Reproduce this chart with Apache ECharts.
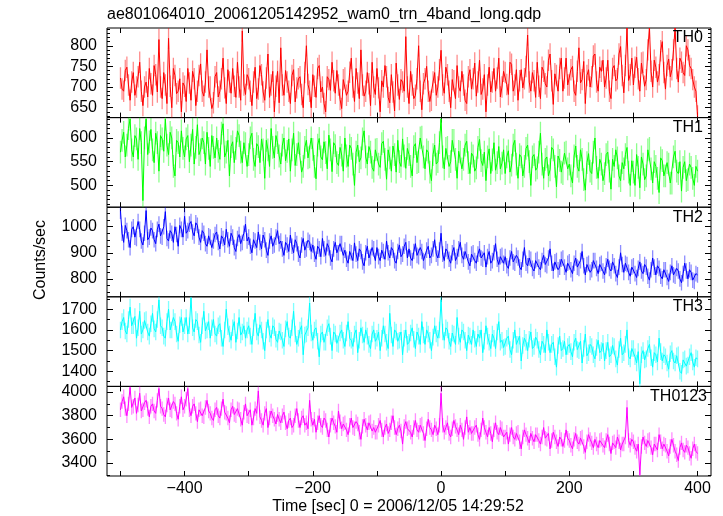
<!DOCTYPE html>
<html><head><meta charset="utf-8">
<script src="https://cdn.jsdelivr.net/npm/echarts@6/dist/echarts.min.js"></script>
<style>html,body{margin:0;padding:0;background:#fff}#c{width:723px;height:516px}</style>
</head><body><div id="c"></div><script>
// time bins (sec from 2006/12/05 14:29:52)
const T_START = -500, T_STEP = 2.5;
const TH0 = [
722,695,690,740,748,705,668,712,735,680,700,725,760,690,655,700,712,676,745,708,
680,752,730,688,815,700,672,735,705,660,818,702,650,745,728,684,690,720,640,710,
702,665,745,710,668,738,720,655,690,728,756,690,678,712,790,700,700,648,662,725,
735,676,690,720,770,698,660,742,712,685,745,702,675,760,700,668,836,705,682,730,
720,690,655,712,748,672,695,752,730,688,668,722,780,675,705,738,640,702,738,662,
795,705,680,740,712,690,660,728,742,664,698,720,725,682,650,735,800,706,690,650,
730,702,675,745,752,688,700,660,640,725,718,692,760,715,685,740,705,670,648,718,
722,680,690,736,770,700,665,745,710,672,790,705,678,690,735,708,655,760,700,682,
745,698,640,715,700,752,725,675,662,730,688,642,758,705,670,718,712,690,822,700,
660,738,705,672,680,720,800,690,645,708,720,750,690,665,668,712,735,680,700,742,
789,705,685,748,730,690,650,718,715,672,752,700,690,738,705,668,660,725,742,695,
720,758,678,712,765,682,695,730,640,705,748,688,712,745,690,722,770,676,700,738,
735,706,682,760,755,690,705,742,668,715,742,698,720,750,826,712,690,735,715,675,
760,702,672,748,738,708,700,765,780,715,658,732,728,690,745,770,690,722,770,705,
705,742,750,690,680,738,795,710,718,762,660,728,742,700,725,775,780,712,690,748,
738,765,700,722,765,690,672,745,752,715,720,780,798,728,686,752,843,716,730,770,
705,748,772,720,690,758,760,702,718,790,843,738,700,765,748,712,730,788,810,735,
695,752,768,725,742,790,843,745,712,770,760,735,728,800,790,752,745,718,700,690,
630];
const TH1 = [
570,595,612,560,585,620,640,575,560,605,598,555,620,590,468,600,640,565,592,618,
575,548,610,590,530,605,598,572,640,585,565,612,600,540,520,595,590,560,615,578,
560,598,605,550,585,618,545,580,628,565,575,600,590,545,612,578,540,605,580,558,
600,572,555,610,630,560,570,595,520,582,592,548,578,615,605,570,548,590,588,540,
565,600,610,555,540,588,582,548,598,575,515,595,575,540,620,580,558,605,590,562,
545,585,600,552,572,598,530,575,610,542,565,590,588,528,540,580,595,558,560,600,
576,540,514,585,599,560,554,592,569,535,606,575,529,590,584,548,542,580,564,530,
600,562,540,585,578,545,500,570,585,550,558,598,615,560,545,582,570,538,530,575,
576,545,538,588,593,555,513,575,558,530,583,565,528,595,550,540,598,562,536,578,
565,540,520,582,588,548,550,600,602,560,535,575,570,528,510,565,585,545,550,590,
640,560,535,578,580,540,550,595,595,555,515,572,570,535,555,585,593,548,525,568,
562,530,537,580,597,552,542,570,510,560,577,525,554,590,532,548,582,535,547,575,
525,560,573,528,543,585,595,545,515,565,560,520,540,578,585,550,500,560,565,532,
537,570,610,545,515,555,560,520,533,580,575,540,497,562,553,528,525,568,570,535,
545,520,505,562,583,540,530,575,555,512,490,548,567,530,525,570,600,538,515,555,
545,510,525,565,570,530,492,555,540,575,558,520,510,548,535,565,580,528,500,552,
528,500,565,538,495,560,545,512,520,575,578,535,505,550,540,515,485,558,552,520,
520,548,545,505,505,560,572,530,525,550,488,538,550,510,512,545,538,515,500,540,
530];
const TH2 = [
1060,975,940,1005,985,950,920,990,1000,960,955,1020,990,945,930,975,1062,950,960,995,
985,950,935,990,1010,965,960,1000,1058,955,945,985,975,940,1000,970,925,1005,990,960,
1040,975,985,1010,1020,980,965,1015,1005,960,940,985,975,935,925,965,960,920,945,970,
980,940,915,965,955,930,990,950,925,975,960,920,905,955,970,935,940,975,1010,945,
960,925,900,950,945,920,980,940,915,968,950,910,890,945,965,925,930,960,985,935,
945,915,890,940,930,905,968,925,900,950,935,895,880,930,955,910,915,948,940,905,
930,895,875,925,915,885,955,915,890,935,920,880,865,915,940,900,900,935,935,890,
910,875,860,905,900,870,938,895,870,915,905,865,850,900,925,880,885,920,915,870,
920,885,870,910,905,875,945,900,880,920,910,870,860,905,930,885,895,925,940,880,
915,880,870,905,935,890,885,920,905,870,865,910,925,880,890,915,950,895,880,910,
975,895,870,915,905,875,860,900,920,870,885,915,940,890,875,905,910,865,850,895,
900,870,860,895,915,880,875,900,845,885,905,860,870,900,935,875,855,885,890,860,
885,850,840,880,905,865,860,890,880,845,835,875,920,860,850,880,875,840,830,870,
875,845,835,870,890,855,850,880,915,860,830,865,870,835,845,875,880,845,825,860,
865,835,820,860,880,845,840,870,905,850,815,855,860,825,835,870,870,840,820,855,
860,830,815,850,875,840,830,865,850,820,805,845,900,855,825,860,855,825,810,845,
850,820,805,840,865,830,820,855,845,810,795,835,880,845,815,850,840,810,800,835,
835,805,790,825,850,815,810,840,830,800,785,820,860,830,800,835,825,795,790,820,
815];
const TH3 = [
1600,1640,1660,1595,1580,1650,1710,1620,1620,1665,1560,1610,1690,1580,1600,1645,1650,1590,1570,1630,
1680,1605,1590,1650,1745,1620,1610,1570,1560,1640,1700,1600,1600,1660,1640,1580,1545,1625,1660,1590,
1620,1660,1580,1620,1755,1610,1590,1650,1640,1575,1540,1620,1690,1595,1600,1640,1560,1610,1650,1580,
1570,1620,1630,1560,1520,1600,1700,1615,1580,1550,1610,1640,1540,1595,1660,1575,1590,1620,1560,1600,
1620,1570,1530,1610,1680,1590,1570,1625,1600,1545,1500,1600,1650,1580,1560,1620,1610,1555,1540,1595,
1590,1550,1520,1605,1640,1570,1560,1610,1690,1580,1530,1560,1600,1620,1480,1575,1580,1610,1730,1585,
1550,1600,1610,1545,1470,1580,1590,1540,1540,1610,1630,1570,1500,1590,1580,1535,1530,1585,1600,1550,
1520,1585,1640,1560,1550,1520,1580,1600,1490,1550,1610,1575,1540,1600,1570,1530,1510,1580,1600,1545,
1560,1590,1500,1560,1620,1580,1540,1510,1680,1575,1520,1600,1590,1545,1550,1590,1480,1560,1600,1530,
1540,1585,1610,1555,1510,1590,1570,1530,1640,1575,1530,1600,1580,1550,1500,1565,1620,1580,1560,1600,
1745,1590,1550,1610,1600,1545,1520,1585,1580,1530,1660,1570,1540,1600,1590,1550,1500,1575,1570,1530,
1600,1555,1520,1580,1560,1600,1490,1545,1620,1570,1540,1510,1580,1560,1510,1590,1640,1540,1550,1515,
1520,1560,1570,1505,1480,1550,1600,1530,1530,1570,1450,1525,1560,1540,1500,1555,1590,1510,1520,1565,
1550,1505,1480,1545,1530,1490,1600,1540,1490,1530,1540,1470,1420,1525,1570,1500,1510,1545,1480,1520,
1530,1495,1470,1540,1560,1505,1500,1545,1440,1510,1580,1475,1490,1530,1520,1480,1460,1515,1550,1490,
1500,1535,1450,1500,1540,1470,1480,1525,1520,1460,1430,1505,1560,1480,1490,1530,1600,1470,1460,1510,
1510,1470,1440,1495,1340,1480,1500,1455,1460,1510,1530,1465,1420,1490,1480,1445,1560,1495,1450,1480,
1470,1440,1410,1485,1500,1450,1440,1475,1480,1400,1390,1455,1460,1425,1430,1470,1490,1445,1420,1465,
1460];
const TH0123 = [
3850,3920,3960,3860,3800,3900,4040,3870,3880,3950,3820,3890,3990,3840,3850,3910,3930,3860,3790,3880,
3900,3840,3820,3930,4030,3880,3860,3810,3790,3890,3950,3850,3840,3920,3900,3820,3770,3880,3960,3850,
3880,3940,4030,3850,3800,3880,3900,3820,3750,3850,3860,3800,3790,3870,3930,3840,3820,3780,3760,3850,
3870,3800,3780,3860,3940,3830,3820,3780,3740,3850,3880,3810,3800,3860,3850,3770,3720,3830,3900,3800,
3790,3850,3720,3780,3860,3820,4010,3790,3760,3720,3820,3860,3700,3780,3840,3800,3770,3730,3810,3770,
3740,3800,3830,3740,3690,3760,3780,3700,3720,3800,3860,3760,3700,3780,3800,3720,3740,3690,3930,3770,
3720,3770,3660,3740,3800,3720,3700,3780,3760,3680,3620,3720,3780,3740,3710,3660,3840,3750,3690,3730,
3740,3680,3640,3720,3780,3700,3690,3750,3730,3660,3600,3710,3770,3720,3680,3740,3750,3670,3700,3660,
3660,3720,3760,3680,3620,3700,3730,3650,3680,3740,3800,3700,3640,3690,3720,3670,3560,3710,3750,3690,
3700,3660,3620,3700,3760,3680,3660,3720,3730,3650,3590,3690,3770,3700,3680,3640,3720,3690,3640,3720,
3990,3720,3660,3700,3740,3650,3620,3690,3760,3710,3680,3640,3720,3680,3600,3700,3790,3660,3700,3650,
3650,3700,3720,3640,3600,3680,3780,3700,3660,3620,3700,3650,3580,3680,3740,3660,3640,3700,3690,3620,
3620,3660,3560,3640,3700,3620,3600,3650,3660,3580,3520,3620,3680,3640,3610,3570,3650,3610,3580,3640,
3640,3590,3560,3620,3700,3610,3600,3650,3520,3590,3660,3620,3580,3540,3620,3600,3540,3590,3680,3610,
3590,3550,3520,3600,3650,3580,3560,3610,3620,3540,3490,3580,3640,3600,3570,3530,3600,3560,3530,3590,
3600,3550,3530,3590,3640,3560,3480,3570,3580,3530,3620,3580,3510,3560,3560,3620,3870,3590,3550,3600,
3580,3530,3500,3560,3300,3540,3620,3570,3540,3590,3600,3530,3470,3560,3560,3510,3640,3580,3520,3560,
3550,3500,3460,3540,3600,3550,3500,3470,3420,3530,3570,3510,3490,3550,3530,3480,3440,3520,3560,3500,
3480];
// half-length of the light error bars in each panel (counts/sec)
const ERR = [26, 24, 30, 40, 61];

const PANEL_NAMES = ['TH0','TH1','TH2','TH3','TH0123'];
const PANEL_DATA = [TH0, TH1, TH2, TH3, TH0123];
const COLORS = ['#ff0000','#00ff00','#0000ff','#00ffff','#ff00ff'];
const ERR_COLORS = ['rgba(255,0,0,0.45)','rgba(0,255,0,0.45)','rgba(0,0,255,0.45)','rgba(0,255,255,0.5)','rgba(255,0,255,0.45)'];
const Y_MIN = [626, 454, 731, 1327, 3290];
const Y_MAX = [843, 643, 1075, 1760, 4048];
const Y_MAJOR = [[650,700,750,800],[500,550,600],[800,900,1000],[1400,1500,1600,1700],[3400,3600,3800,4000]];
const Y_MINOR_STEP = [10, 10, 25, 50, 100];
const X_MIN = -521, X_MAX = 421;
const X_TICKS = [-500,-400,-300,-200,-100,0,100,200,300,400];
const X_LABELS = [-400,-200,0,200,400];
const TITLE = 'ae801064010_20061205142952_wam0_trn_4band_long.qdp';
const X_NAME = 'Time [sec] 0 = 2006/12/05 14:29:52';
const Y_NAME = 'Counts/sec';

const FONT = '"Liberation Sans", Arial, Helvetica, sans-serif';
const PANEL_TOP = 28, PANEL_H = 89.6, LEFT = 107, RIGHT = 12;

function range(a, b, s){ const r=[]; for(let v=a; v<=b+1e-9; v+=s) r.push(v); return r; }
function minus(v){ return String(v).replace('-', '\u2212'); }
function plain(v){ return String(v); }

const grids=[], xAxes=[], yAxes=[], series=[], graphics=[];
for (let i=0;i<5;i++){
  grids.push({left:LEFT, right:RIGHT, top:PANEL_TOP+i*PANEL_H, height:PANEL_H, show:true,
    borderColor:'#000', borderWidth:1, backgroundColor:'transparent'});
  const xb = {type:'value', gridIndex:i, min:X_MIN, max:X_MAX, axisLine:{show:false, onZero:false}, splitLine:{show:false},
    axisTick:{show:true, inside:true, length:5, lineStyle:{color:'#000', width:1}, customValues:X_TICKS}};
  xAxes.push(Object.assign({}, xb, {position:'bottom',
    axisLabel:{show:i===4, customValues:X_LABELS, formatter:minus, fontSize:16, color:'#000', fontFamily:FONT, margin:5}}));
  xAxes.push(Object.assign({}, xb, {position:'top', axisLabel:{show:false, customValues:X_LABELS}}));
  const st = Y_MINOR_STEP[i];
  const minor = range(Math.ceil(Y_MIN[i]/st)*st, Y_MAX[i], st).filter(v => Y_MAJOR[i].indexOf(v) < 0);
  const yb = {type:'value', gridIndex:i, min:Y_MIN[i], max:Y_MAX[i], axisLine:{show:false, onZero:false}, splitLine:{show:false}};
  yAxes.push(Object.assign({}, yb, {position:'left',
    axisTick:{show:true, inside:true, length:6, lineStyle:{color:'#000'}, customValues:Y_MAJOR[i]},
    axisLabel:{show:true, customValues:Y_MAJOR[i], formatter:plain, fontSize:16, color:'#000', fontFamily:FONT, margin:10}}));
  yAxes.push(Object.assign({}, yb, {position:'right',
    axisTick:{show:true, inside:true, length:6, lineStyle:{color:'#000'}, customValues:Y_MAJOR[i]},
    axisLabel:{show:false, customValues:Y_MAJOR[i]}}));
  yAxes.push(Object.assign({}, yb, {position:'left',
    axisTick:{show:true, inside:true, length:3, lineStyle:{color:'#000'}, customValues:minor},
    axisLabel:{show:false, customValues:minor}}));
  yAxes.push(Object.assign({}, yb, {position:'right',
    axisTick:{show:true, inside:true, length:3, lineStyle:{color:'#000'}, customValues:minor},
    axisLabel:{show:false, customValues:minor}}));
  const pts = PANEL_DATA[i].map((v,k)=>[T_START + k*T_STEP, v]);
  const e = ERR[i];
  series.push({type:'custom', xAxisIndex:2*i, yAxisIndex:4*i, data:pts, silent:true, clip:true, z:1,
    encode:{x:0, y:1},
    renderItem:function(params, api){
      const t = api.value(0), v = api.value(1);
      const p1 = api.coord([t, v - e]), p2 = api.coord([t, v + e]);
      return {type:'line', shape:{x1:p1[0], y1:p1[1], x2:p2[0], y2:p2[1]},
        style:{stroke:ERR_COLORS[i], lineWidth:1.3}};
    }});
  series.push({type:'line', xAxisIndex:2*i, yAxisIndex:4*i, data:pts, showSymbol:false, silent:true,
    lineStyle:{color:COLORS[i], width:1}, itemStyle:{color:COLORS[i]}, clip:true, z:2});
  graphics.push({type:'text', x:(i===4?707:703), y:PANEL_TOP+i*PANEL_H+10, z:10,
    style:{text:PANEL_NAMES[i], fill:'#000', font:'16px '+FONT, textAlign:'right', textVerticalAlign:'middle'}});
}
graphics.push({type:'text', x:107, y:15, style:{text:TITLE, fill:'#000', font:'16px '+FONT, textAlign:'left', textVerticalAlign:'middle'}});
graphics.push({type:'text', x:398, y:507, style:{text:X_NAME, fill:'#000', font:'16px '+FONT, textAlign:'center', textVerticalAlign:'middle'}});
graphics.push({type:'text', x:41, y:260, rotation:Math.PI/2, style:{text:Y_NAME, fill:'#000', font:'16px '+FONT, textAlign:'center', textVerticalAlign:'middle'}});

const chart = echarts.init(document.getElementById('c'), null, {renderer:'canvas'});
chart.setOption({animation:false, backgroundColor:'#fff', grid:grids, xAxis:xAxes, yAxis:yAxes, series:series, graphic:graphics});
</script></body></html>
